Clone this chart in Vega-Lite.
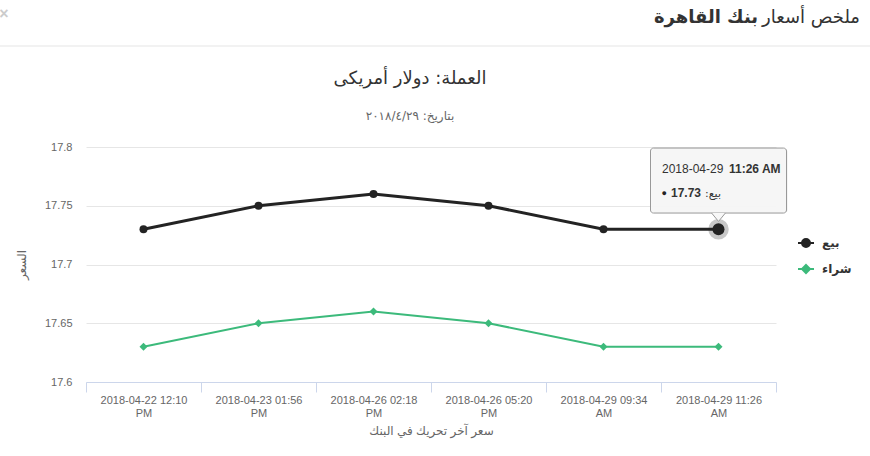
{
  "$schema": "https://vega.github.io/schema/vega-lite/v6.json",
  "width": 690,
  "height": 235,
  "autosize": {"type": "none"},
  "padding": {"left": 86, "top": 147, "right": 94, "bottom": 74},
  "background": "#ffffff",
  "config": {
    "view": {"stroke": null},
    "font": "Liberation Sans, DejaVu Sans",
    "text": {"font": "Liberation Sans, DejaVu Sans"}
  },
  "datasets": {
    "prices": [
      {"time": "2018-04-22 12:10 PM", "series": "بيع", "value": 17.73},
      {"time": "2018-04-23 01:56 PM", "series": "بيع", "value": 17.75},
      {"time": "2018-04-26 02:18 PM", "series": "بيع", "value": 17.76},
      {"time": "2018-04-26 05:20 PM", "series": "بيع", "value": 17.75},
      {"time": "2018-04-29 09:34 AM", "series": "بيع", "value": 17.73},
      {"time": "2018-04-29 11:26 AM", "series": "بيع", "value": 17.73},
      {"time": "2018-04-22 12:10 PM", "series": "شراء", "value": 17.63},
      {"time": "2018-04-23 01:56 PM", "series": "شراء", "value": 17.65},
      {"time": "2018-04-26 02:18 PM", "series": "شراء", "value": 17.66},
      {"time": "2018-04-26 05:20 PM", "series": "شراء", "value": 17.65},
      {"time": "2018-04-29 09:34 AM", "series": "شراء", "value": 17.63},
      {"time": "2018-04-29 11:26 AM", "series": "شراء", "value": 17.63}
    ]
  },
  "data": {"name": "prices"},
  "encoding": {
    "x": {
      "field": "time",
      "type": "nominal",
      "sort": null,
      "scale": {"type": "band", "paddingInner": 0, "paddingOuter": 0},
      "axis": {
        "title": "سعر آخر تحريك في البنك",
        "titleColor": "#666666",
        "titleFontSize": 12,
        "titleFontWeight": "normal",
        "titlePadding": 7,
        "labelAngle": 0,
        "labelColor": "#666666",
        "labelFontSize": 11,
        "labelPadding": 2,
        "labelLineHeight": 13,
        "labelExpr": "isString(datum.value) ? [substring(datum.value, 0, 16), substring(datum.value, 17)] : ''",
        "domainColor": "#ccd6eb",
        "tickColor": "#ccd6eb",
        "tickSize": 10,
        "tickBand": "extent",
        "grid": false
      }
    },
    "y": {
      "field": "value",
      "type": "quantitative",
      "scale": {"domain": [17.6, 17.8], "zero": false, "nice": false},
      "axis": {
        "title": "السعر",
        "titleColor": "#666666",
        "titleFontSize": 12,
        "titleFontWeight": "normal",
        "titlePadding": 16,
        "values": [17.6, 17.65, 17.7, 17.75, 17.8],
        "format": ".4~f",
        "labelColor": "#666666",
        "labelFontSize": 11,
        "labelPadding": 14,
        "domain": false,
        "ticks": false,
        "gridColor": "#e6e6e6"
      }
    },
    "color": {
      "field": "series",
      "type": "nominal",
      "sort": null,
      "scale": {"domain": ["بيع", "شراء"], "range": ["#232323", "#3cba7b"]},
      "legend": {
        "title": null,
        "orient": "none",
        "legendX": 711,
        "legendY": 87,
        "padding": 0,
        "symbolSize": 256,
        "rowPadding": 9,
        "labelOffset": 7,
        "labelFont": "DejaVu Sans",
        "labelFontSize": 12,
        "labelFontWeight": "bold",
        "labelColor": "#333333",
        "encode": {
          "symbols": {
            "update": {
              "shape": {"signal": "datum.value === 'بيع' ? 'M-1,0L1,0M-0.5,0A0.5,0.5,0,1,0,0.5,0A0.5,0.5,0,1,0,-0.5,0Z' : 'M-1,0L1,0M0,-0.5L0.5,0L0,0.5L-0.5,0Z'"},
              "fill": {"scale": "color", "field": "value"},
              "stroke": {"scale": "color", "field": "value"},
              "strokeWidth": {"value": 2},
              "opacity": {"value": 1}
            }
          }
        }
      }
    }
  },
  "layer": [
    {
      "data": {"values": [{}]},
      "mark": {"type": "rule", "color": "#e5e5e5", "strokeWidth": 1},
      "encoding": {
        "x": {"value": -86},
        "x2": {"value": 784},
        "y": {"value": -101},
        "color": {"value": "#e5e5e5"}
      }
    },
    {
      "data": {"values": [{}]},
      "mark": {"type": "text", "text": "ملخص أسعار", "align": "right", "baseline": "alphabetic", "fontSize": 18, "font": "DejaVu Sans"},
      "encoding": {"x": {"value": 774}, "y": {"value": -124}, "color": {"value": "#333333"}}
    },
    {
      "data": {"values": [{}]},
      "mark": {"type": "text", "text": "بنك القاهرة", "align": "right", "baseline": "alphabetic", "fontSize": 18, "fontWeight": "bold", "font": "DejaVu Sans"},
      "encoding": {"x": {"value": 672}, "y": {"value": -124}, "color": {"value": "#333333"}}
    },
    {
      "data": {"values": [{}]},
      "mark": {"type": "text", "text": "×", "align": "center", "baseline": "middle", "fontSize": 16, "fontWeight": "bold"},
      "encoding": {"x": {"value": -82}, "y": {"value": -133}, "color": {"value": "#cccccc"}}
    },
    {
      "data": {"values": [{}]},
      "mark": {"type": "text", "text": "العملة: دولار أمريكى", "align": "center", "baseline": "alphabetic", "fontSize": 18, "font": "DejaVu Sans"},
      "encoding": {"x": {"value": 324}, "y": {"value": -63}, "color": {"value": "#333333"}}
    },
    {
      "data": {"values": [{}]},
      "mark": {"type": "text", "text": "بتاريخ: ٢٠١٨/٤/٢٩", "align": "center", "baseline": "alphabetic", "fontSize": 12, "font": "DejaVu Sans"},
      "encoding": {"x": {"value": 324}, "y": {"value": -27}, "color": {"value": "#666666"}}
    },
    {
      "transform": [{"filter": "datum.series === 'بيع'"}],
      "mark": {"type": "line", "strokeWidth": 3}
    },
    {
      "transform": [{"filter": "datum.series === 'شراء'"}],
      "mark": {"type": "line", "strokeWidth": 2}
    },
    {
      "transform": [{"filter": "datum.series === 'بيع'"}],
      "mark": {"type": "point", "shape": "circle", "filled": true, "size": 64, "opacity": 1}
    },
    {
      "transform": [{"filter": "datum.series === 'شراء'"}],
      "mark": {"type": "point", "shape": "diamond", "filled": true, "size": 64, "opacity": 1}
    },
    {
      "transform": [{"filter": "datum.series === 'بيع' && datum.time === '2018-04-29 11:26 AM'"}],
      "layer": [
        {"mark": {"type": "point", "shape": "circle", "filled": true, "size": 420, "opacity": 0.25}},
        {"mark": {"type": "point", "shape": "circle", "filled": true, "size": 144, "opacity": 1}},
        {
          "mark": {"type": "bar", "width": 136, "opacity": 0.08, "xOffset": 1, "yOffset": 1, "cornerRadius": 3},
          "encoding": {"y": {"datum": 17.7991}, "y2": {"datum": 17.7438}, "color": {"value": "#000000"}}
        },
        {
          "mark": {"type": "bar", "width": 136, "fillOpacity": 0.95, "stroke": "#999999", "strokeWidth": 1, "cornerRadius": 3},
          "encoding": {"y": {"datum": 17.7991}, "y2": {"datum": 17.7438}, "color": {"value": "#f7f7f7"}}
        },
        {
          "mark": {"type": "point", "shape": "M-1,-0.62L0,0.6L1,-0.62", "filled": true, "size": 196, "stroke": "#999999", "strokeWidth": 1, "opacity": 1, "yOffset": -12},
          "encoding": {"color": {"value": "#f7f7f7"}}
        },
        {
          "mark": {"type": "text", "text": "2018-04-29", "align": "left", "baseline": "alphabetic", "fontSize": 12, "dx": -56.5, "dy": -56},
          "encoding": {"color": {"value": "#333333"}}
        },
        {
          "mark": {"type": "text", "text": "11:26 AM", "align": "left", "baseline": "alphabetic", "fontSize": 12, "fontWeight": "bold", "dx": 10.5, "dy": -56},
          "encoding": {"color": {"value": "#333333"}}
        },
        {
          "mark": {"type": "text", "text": "●", "align": "left", "baseline": "alphabetic", "fontSize": 9, "dx": -57, "dy": -33},
          "encoding": {"color": {"value": "#232323"}}
        },
        {
          "mark": {"type": "text", "text": "17.73", "align": "left", "baseline": "alphabetic", "fontSize": 12, "fontWeight": "bold", "dx": -47.5, "dy": -32},
          "encoding": {"color": {"value": "#333333"}}
        },
        {
          "mark": {"type": "text", "text": "بيع:‏", "align": "left", "baseline": "alphabetic", "fontSize": 11, "font": "DejaVu Sans", "dx": -13.5, "dy": -32},
          "encoding": {"color": {"value": "#333333"}}
        }
      ]
    }
  ]
}
